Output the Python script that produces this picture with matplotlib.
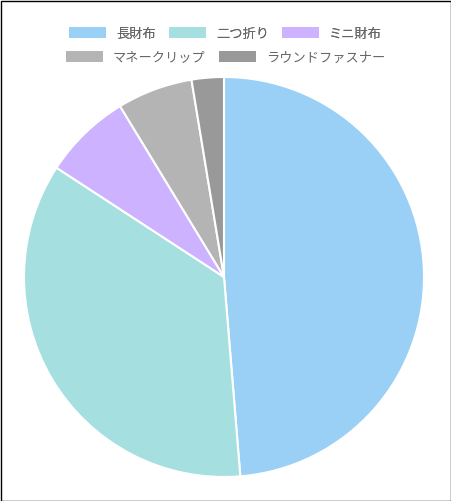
import matplotlib
matplotlib.use('Agg')
from matplotlib import pyplot as plt
from matplotlib.patches import Patch, Rectangle

plt.rcParams['font.family'] = ['Noto Sans CJK JP', 'DejaVu Sans']

labels = ['長財布', '二つ折り', 'ミニ財布', 'マネークリップ', 'ラウンドファスナー']
values = [48.7, 35.5, 7.1, 6.1, 2.6]
colors = ['#9ad0f5', '#a5dfdf', '#ccb2ff', '#b4b4b4', '#999999']

W, H = 451, 501
fig = plt.figure(figsize=(W / 100, H / 100), dpi=100)

# pie centred at (224, 277) px, radius 200 px
ax = fig.add_axes([24 / W, (H - 477) / H, 400 / W, 400 / H])
ax.pie(values, colors=colors, startangle=90, counterclock=False,
       radius=1.0, wedgeprops=dict(edgecolor='white', linewidth=1.5))
ax.set_xlim(-1, 1)
ax.set_ylim(-1, 1)
ax.set_aspect('auto')
ax.axis('off')

# legend in two centred rows
handles = [Patch(facecolor=c, edgecolor='none') for c in colors]
leg_kw = dict(frameon=False, fontsize=9.5, labelcolor='#666666',
              handlelength=2.8, handleheight=0.9, handletextpad=0.75,
              columnspacing=1.0, borderaxespad=0, borderpad=0, loc='center')
leg1 = fig.legend(handles[:3], labels[:3], ncol=3,
                  bbox_to_anchor=(0.5, 1 - 34 / H), **leg_kw)
fig.add_artist(leg1)
fig.legend(handles[3:], labels[3:], ncol=2,
           bbox_to_anchor=(0.5, 1 - 58 / H), **leg_kw)

# thin frame round the image
fig.add_artist(Rectangle((0.5 / W, 0.5 / H), 1 - 1 / W, 1 - 1 / H,
                         transform=fig.transFigure, fill=False,
                         edgecolor='black', linewidth=1))

plt.savefig('out.png', dpi=100)
